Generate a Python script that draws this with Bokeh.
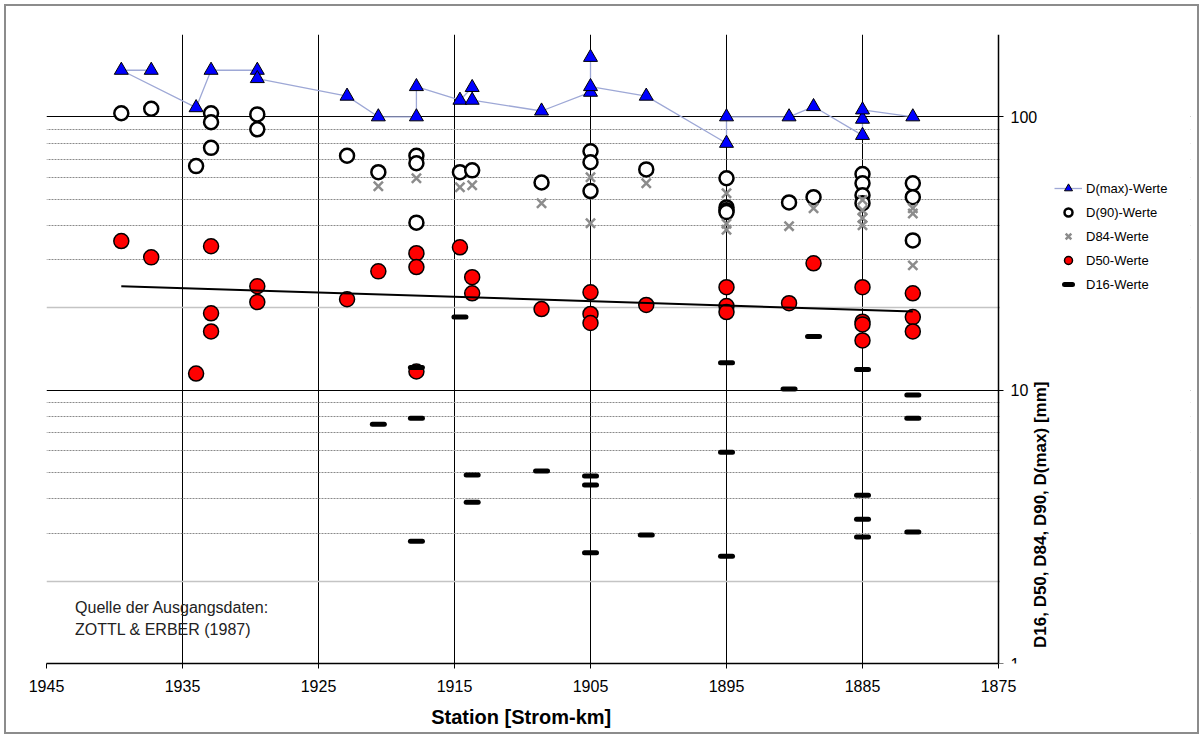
import math
from bokeh.plotting import figure
from bokeh.models import (Range1d, FixedTicker, PrintfTickFormatter, Grid, Legend,
                          LegendItem, Label, BoxAnnotation)
from bokeh.embed import file_html
from bokeh.resources import INLINE

# Grain-size values along the river (Strom-km), in mm
dmax_km = [1937.3, 1939.5, 1934.0, 1932.9, 1929.5, 1929.5, 1922.9, 1920.6, 1917.8, 1917.8,
           1914.6, 1913.7, 1913.7, 1908.6, 1905.0, 1905.0, 1905.0, 1900.9, 1895.0, 1895.0,
           1890.4, 1888.6, 1885.0, 1885.0, 1885.0, 1881.3]
dmax_val = [148, 148, 108, 148, 148, 138, 119, 100, 100, 129,
            115, 128, 115, 105, 123, 165, 129, 119, 80, 100,
            100, 109, 85.5, 98, 106, 100]

d90_km = [1939.5, 1937.3, 1934.0, 1932.9, 1932.9, 1932.9, 1929.5, 1929.5, 1922.9, 1920.6,
          1917.8, 1917.8, 1917.8, 1914.6, 1913.7, 1908.6, 1905.0, 1905.0, 1905.0, 1900.9,
          1895.0, 1895.0, 1895.0, 1895.0, 1890.4, 1888.6, 1885.0, 1885.0, 1885.0, 1885.0,
          1881.3, 1881.3, 1881.3]
d90_val = [103, 107, 66, 103, 95.5, 77, 102, 90, 72, 62.7,
           72, 67.6, 41, 62.7, 63.7, 57.5, 74.8, 68.2, 53.5, 64.2,
           59.6, 46.6, 45.5, 44.8, 48.6, 50.8, 61.7, 57.1, 51.6, 48.3,
           57.1, 50.8, 35.3]

d84_km = [1920.6, 1917.8, 1914.6, 1913.7, 1908.6, 1905.0, 1905.0, 1900.9, 1895.0, 1895.0,
          1895.0, 1890.4, 1888.6, 1885.0, 1885.0, 1885.0, 1885.0, 1881.3, 1881.3, 1881.3]
d84_val = [55.7, 59.6, 55.2, 56.2, 48.3, 60.1, 40.8, 57.1, 52.5, 40.6,
           38.6, 39.8, 46.3, 49.6, 45.5, 42.6, 40.1, 46.3, 44.3, 28.6]

d50_km = [1939.5, 1937.3, 1934.0, 1932.9, 1932.9, 1932.9, 1929.5, 1929.5, 1922.9, 1920.6,
          1917.8, 1917.8, 1917.8, 1914.6, 1913.7, 1913.7, 1908.6, 1905.0, 1905.0, 1905.0,
          1900.9, 1895.0, 1895.0, 1895.0, 1890.4, 1888.6, 1885.0, 1885.0, 1885.0, 1885.0,
          1881.3, 1881.3, 1881.3]
d50_val = [35.1, 30.6, 11.5, 33.6, 19.1, 16.4, 24.0, 21.0, 21.5, 27.2,
           31.7, 28.2, 11.7, 33.3, 25.9, 22.6, 19.8, 22.8, 19.0, 17.6,
           20.5, 23.8, 20.3, 19.3, 20.8, 29.1, 23.8, 17.8, 17.4, 15.2,
           22.6, 18.5, 16.4]

d16_km = [1920.6, 1917.8, 1917.8, 1917.8, 1914.6, 1913.7, 1913.7, 1908.6, 1905.0, 1905.0,
          1905.0, 1900.9, 1895.0, 1895.0, 1895.0, 1890.4, 1888.6, 1885.0, 1885.0, 1885.0,
          1885.0, 1881.3, 1881.3, 1881.3]
d16_val = [7.5, 12.1, 7.9, 2.8, 18.5, 4.89, 3.89, 5.06, 4.85, 4.5,
           2.54, 2.95, 12.6, 5.93, 2.47, 10.1, 15.7, 11.9, 4.13, 3.37,
           2.9, 9.6, 7.9, 3.03]

# D50 trend line (exponential, straight on the log axis)
trend_km = [1939.5, 1881.3]
trend_val = [24.0, 19.4]

x_ticks = [1945, 1935, 1925, 1915, 1905, 1895, 1885, 1875]
y_ticks = [1, 10, 100]

FONT = "Liberation Sans"

# The frame runs on past km 1875 so that the legend and the axis title, which sit
# to the right of the value axis, are drawn inside it.
KM_START, KM_END = 1945, 1875
PLOT_PX = 952                      # pixels between km 1945 and km 1875
FRAME_W, FRAME_H = 1144, 629
km_per_px = (KM_START - KM_END) / PLOT_PX
x_far = KM_END - (FRAME_W - PLOT_PX) * km_per_px

p = figure(frame_width=FRAME_W, frame_height=FRAME_H,
           x_range=Range1d(KM_START, x_far), y_range=Range1d(1, 200),
           y_axis_type="log", y_axis_location="right", output_backend="svg",
           toolbar_location=None, min_border_left=46, min_border_right=1203 - 46 - FRAME_W,
           min_border_top=34, min_border_bottom=75,
           background_fill_color=None, border_fill_color=None)
p.outline_line_color = None
# grey frame around the whole chart
p.styles = {"outline": "2px solid #8c8c8c", "outline-offset": "-6px"}

# axes
p.xaxis.ticker = FixedTicker(ticks=x_ticks)
p.xaxis.bounds = (KM_END, KM_START)
# trailing no-break spaces centre the title under the km 1945-1875 stretch
p.xaxis.axis_label = "Station [Strom-km]" + "\u00a0" * 35
p.yaxis.ticker = FixedTicker(ticks=y_ticks,
                             minor_ticks=[3, 4, 5, 6, 7, 8, 9, 30, 40, 50, 60, 70, 80, 90])
p.yaxis.formatter = PrintfTickFormatter(format="%d")
p.yaxis.fixed_location = KM_END
for ax in (p.xaxis, p.yaxis):
    ax.axis_line_color = "black"
    ax.axis_line_width = 1.5
    ax.major_tick_line_color = "black"
    ax.major_tick_out = 5
    ax.major_tick_in = 0
    ax.minor_tick_line_color = None
    ax.major_label_text_font = FONT
    ax.major_label_text_font_size = "16px"
    ax.major_label_text_color = "black"
    ax.axis_label_text_font = FONT
    ax.axis_label_text_font_style = "bold"
    ax.axis_label_text_color = "black"
p.xaxis.major_label_standoff = 11
p.xaxis.axis_label_standoff = 11
p.xaxis.axis_label_text_font_size = "20px"
p.yaxis.major_label_standoff = 7

# grid
p.xgrid.ticker = FixedTicker(ticks=[1935, 1925, 1915, 1905, 1895, 1885])
p.xgrid.grid_line_color = "black"
p.xgrid.grid_line_width = 1
p.ygrid.grid_line_color = "black"
p.ygrid.grid_line_width = 1
p.ygrid.minor_grid_line_color = "#8a8a8a"
p.ygrid.minor_grid_line_dash = "2 1"
p.ygrid.minor_grid_line_width = 1
p.add_layout(Grid(dimension=1, ticker=FixedTicker(ticks=[2, 20]),
                  grid_line_color="#c4c4c4", grid_line_width=1.5))
# grey top and left edges of the plotting area
p.add_layout(Grid(dimension=1, ticker=FixedTicker(ticks=[200]),
                  grid_line_color="#808080", grid_line_width=2))
p.add_layout(Grid(dimension=0, ticker=FixedTicker(ticks=[KM_START]),
                  grid_line_color="#808080", grid_line_width=2))
# blank the grid lines beyond km 1875
p.add_layout(BoxAnnotation(left=KM_END - 0.1, level="underlay", fill_color="white",
                           fill_alpha=1, line_color=None))

# series
r_dmax_line = p.line(dmax_km, dmax_val, line_color="#9ea8d6", line_width=1.3)
r_dmax = p.scatter(dmax_km, dmax_val, marker="triangle", size=14,
                   fill_color="#0000ff", line_color="black", line_width=1)
r_d90 = p.scatter(d90_km, d90_val, marker="circle", size=14,
                  fill_color="white", line_color="black", line_width=2.5)
r_d84 = p.scatter(d84_km, d84_val, marker="x", size=13,
                  line_color="#8c8c8c", line_width=2.5)
r_d50 = p.scatter(d50_km, d50_val, marker="circle", size=15,
                  fill_color="#ff0000", line_color="black", line_width=1.5)
p.line(trend_km, trend_val, line_color="black", line_width=2)
r_d16 = p.scatter(d16_km, d16_val, marker="dash", size=12,
                  line_color="black", line_width=5, line_cap="round")

legend = Legend(items=[
    LegendItem(label="D(max)-Werte", renderers=[r_dmax_line, r_dmax]),
    LegendItem(label="D(90)-Werte", renderers=[r_d90]),
    LegendItem(label="D84-Werte", renderers=[r_d84]),
    LegendItem(label="D50-Werte", renderers=[r_d50]),
    LegendItem(label="D16-Werte", renderers=[r_d16]),
], location=(1008, 369), orientation="vertical")
legend.label_text_font = FONT
legend.label_text_font_size = "13px"
legend.label_text_color = "black"
legend.glyph_width = 28
legend.glyph_height = 20
legend.label_height = 20
legend.spacing = 4
legend.padding = 0
legend.margin = 0
legend.label_standoff = 4
legend.border_line_color = None
legend.background_fill_alpha = 0
p.add_layout(legend)

# value-axis title, reading upwards
p.add_layout(Label(x=KM_END - 42 * km_per_px, y=3.5, text="D16, D50, D84, D90, D(max) [mm]",
                   angle=math.pi / 2, text_align="center", text_baseline="middle",
                   text_font=FONT, text_font_size="17px", text_font_style="bold",
                   text_color="black"))

# data source note
p.add_layout(Label(x=1942.9, y=1.49, text="Quelle der Ausgangsdaten:",
                   text_font=FONT, text_font_size="16px", text_color="#222222"))
p.add_layout(Label(x=1942.9, y=1.24, text="ZOTTL & ERBER (1987)",
                   text_font=FONT, text_font_size="16px", text_color="#222222"))

open("out.html", "w").write(file_html(p, INLINE))
